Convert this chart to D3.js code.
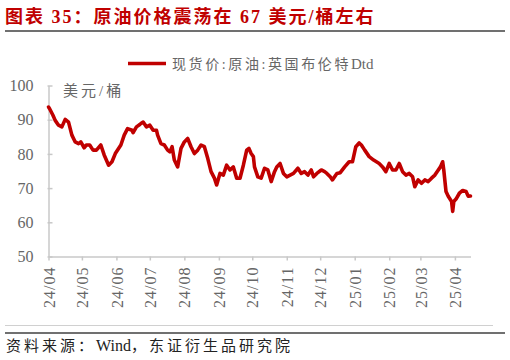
<!DOCTYPE html>
<html><head><meta charset="utf-8">
<script src="https://cdn.jsdelivr.net/npm/d3@7"></script>
<style>body{margin:0;background:#fff}svg{display:block}</style>
</head><body><svg id="c" width="510" height="360"></svg>
<script>
const dates = ["2024-04-01","2024-04-02","2024-04-05","2024-04-07","2024-04-10","2024-04-13","2024-04-16","2024-04-19","2024-04-22","2024-04-25","2024-04-28","2024-04-30",
"2024-05-03","2024-05-05","2024-05-08","2024-05-11","2024-05-14","2024-05-18","2024-05-21","2024-05-25","2024-05-28","2024-05-31",
"2024-06-05","2024-06-08","2024-06-11","2024-06-15","2024-06-16","2024-06-19","2024-06-22","2024-06-23","2024-06-25","2024-06-28",
"2024-07-01","2024-07-04","2024-07-07","2024-07-08","2024-07-11","2024-07-14","2024-07-17","2024-07-19","2024-07-21","2024-07-23","2024-07-26","2024-07-29",
"2024-08-01","2024-08-04","2024-08-07","2024-08-10","2024-08-13","2024-08-16","2024-08-19","2024-08-22","2024-08-25","2024-08-28","2024-08-30",
"2024-09-02","2024-09-05","2024-09-08","2024-09-11","2024-09-14","2024-09-17","2024-09-20","2024-09-23","2024-09-26","2024-09-28","2024-09-30",
"2024-10-02","2024-10-03","2024-10-06","2024-10-09","2024-10-12","2024-10-15","2024-10-18","2024-10-21","2024-10-23","2024-10-26","2024-10-29",
"2024-11-01","2024-11-04","2024-11-07","2024-11-11","2024-11-14","2024-11-17","2024-11-20","2024-11-23","2024-11-25","2024-11-28",
"2024-12-02","2024-12-05","2024-12-07","2024-12-10","2024-12-12","2024-12-16","2024-12-19","2024-12-23","2024-12-27","2024-12-30",
"2025-01-02","2025-01-05","2025-01-07","2025-01-10","2025-01-14","2025-01-18","2025-01-23","2025-01-26","2025-01-29",
"2025-02-01","2025-02-04","2025-02-07","2025-02-10","2025-02-13","2025-02-16","2025-02-19","2025-02-22","2025-02-24","2025-02-27",
"2025-03-02","2025-03-05","2025-03-08","2025-03-11","2025-03-14","2025-03-16","2025-03-19","2025-03-21","2025-03-22","2025-03-24","2025-03-26","2025-03-29","2025-03-30","2025-03-31",
"2025-04-02","2025-04-05","2025-04-08","2025-04-11","2025-04-13","2025-04-15"];
const values = [93.7,93.2,91.3,89.8,88.4,87.9,90.1,89.3,85.5,83.5,83.0,83.5,
81.8,82.6,82.6,81.1,81.1,82.6,79.7,76.7,77.7,80.1,
82.6,85.5,87.4,86.9,86.2,87.9,88.6,88.9,89.3,87.9,
88.4,86.9,86.9,85.5,83.0,82.6,81.1,80.6,82.1,78.2,76.2,81.6,
83.5,84.5,82.1,80.1,81.1,82.6,82.1,78.7,74.8,72.9,70.9,
74.3,73.8,76.7,75.3,76.2,72.9,72.9,76.7,81.1,81.6,80.1,
79.2,76.2,73.3,72.9,75.8,75.3,71.9,74.8,76.2,77.2,74.3,
73.3,73.8,74.3,75.8,74.3,74.8,73.8,75.3,73.3,74.3,
75.3,74.8,74.3,73.3,72.4,74.3,74.5,76.2,77.7,77.7,
82.1,83.2,82.6,81.1,79.2,78.2,77.2,76.2,74.8,
77.2,75.3,75.3,77.2,74.8,73.8,74.3,73.3,70.4,72.4,
71.4,72.4,71.9,72.9,73.8,74.8,76.2,77.7,75.3,69.0,67.6,66.1,63.2,66.1,
66.8,68.5,69.3,69.0,67.6,67.7];
const yTicks = [50,60,70,80,90,100];
const xTickDates = ["2024-04-01","2024-05-01","2024-06-01","2024-07-01","2024-08-01","2024-09-01","2024-10-01","2024-11-01","2024-12-01","2025-01-01","2025-02-01","2025-03-01","2025-04-01"];
const xTickLabels = ["24/04","24/05","24/06","24/07","24/08","24/09","24/10","24/11","24/12","25/01","25/02","25/03","25/04"];
const title = "图表 35：原油价格震荡在 67 美元/桶左右";
const seriesName = ["现货价:原油:英国布伦特", "Dtd"];
const unitLabel = "美元/桶";
const source = ["资料来源：", "Wind", "，东证衍生品研究院"];

const parse = d3.timeParse("%Y-%m-%d");
const data = dates.map((d,i)=>({date:parse(d), v:values[i]}));
const svg = d3.select("#c");
const FONT = "'Liberation Serif','Noto Sans CJK SC',serif";
const gray = "#666";
const axisCol = "#c8c8c8";

const x = d3.scaleTime().domain([parse("2024-04-01"), parse("2025-04-15")]).range([48.5, 470.5]);
const y = d3.scaleLinear().domain([50,100]).range([256.5, 85.5]);

// title
svg.append("text").attr("x",5).attr("y",23).attr("fill","#c00000")
  .attr("font-family",FONT).attr("font-weight","bold").attr("font-size",18)
  .attr("letter-spacing",2).text(title);
svg.append("line").attr("x1",5).attr("x2",505).attr("y1",31).attr("y2",31)
  .attr("stroke","#404040").attr("stroke-width",1.5);

// bottom lines and source
svg.append("line").attr("x1",5).attr("x2",493).attr("y1",325.5).attr("y2",325.5)
  .attr("stroke","#d0d0d0").attr("stroke-width",1);
svg.append("line").attr("x1",5).attr("x2",505).attr("y1",333).attr("y2",333)
  .attr("stroke","#404040").attr("stroke-width",1.5);
const st = svg.append("text").attr("x",6).attr("y",351).attr("fill","#222")
  .attr("font-family",FONT).attr("font-size",15);
st.append("tspan").attr("letter-spacing",3).text(source[0]);
st.append("tspan").attr("letter-spacing",0).attr("font-size",16).text(source[1]);
st.append("tspan").attr("letter-spacing",3).text(source[2]);

// legend
svg.append("line").attr("x1",128).attr("x2",166).attr("y1",63.5).attr("y2",63.5)
  .attr("stroke","#c00000").attr("stroke-width",3.5);
const lt = svg.append("text").attr("x",172).attr("y",68.5).attr("fill",gray)
  .attr("font-family",FONT).attr("font-size",14);
lt.append("tspan").attr("letter-spacing",2.6).text(seriesName[0]);
lt.append("tspan").attr("letter-spacing",0).attr("font-size",15).text(seriesName[1]);

// unit
svg.append("text").attr("x",63).attr("y",96).attr("fill",gray)
  .attr("font-family",FONT).attr("font-size",15).attr("letter-spacing",3).text(unitLabel);

// y axis
const yAxis = d3.axisLeft(y).tickValues(yTicks).tickSize(0).tickPadding(15);
const gy = svg.append("g").attr("transform","translate(48.5,0)").call(yAxis);
gy.select(".domain").attr("stroke",axisCol).attr("stroke-width",1.5);
gy.selectAll(".tick text").attr("font-family",FONT).attr("font-size",16).attr("fill",gray);
gy.selectAll(".tick").append("line").attr("x1",-1).attr("x2",4).attr("stroke",axisCol).attr("stroke-width",1.5);

// x axis
const xAxis = d3.axisBottom(x).tickValues(xTickDates.map(parse))
  .tickFormat((d,i)=>xTickLabels[i]).tickSize(4).tickSizeOuter(0).tickPadding(0);
const gx = svg.append("g").attr("transform","translate(0,256.5)").call(xAxis);
gx.select(".domain").attr("stroke",axisCol).attr("stroke-width",1.5);
gx.selectAll(".tick line").attr("stroke",axisCol).attr("stroke-width",1.5);
gx.selectAll(".tick text").attr("font-family",FONT).attr("font-size",16).attr("fill",gray)
  .attr("letter-spacing",1)
  .attr("transform","rotate(-90)").attr("text-anchor","end")
  .attr("x",-10).attr("y",0).attr("dy","0.35em");

// line
svg.append("path").datum(data)
  .attr("fill","none").attr("stroke","#c00000").attr("stroke-width",3.6)
  .attr("stroke-linejoin","round").attr("stroke-linecap","round")
  .attr("d", d3.line().x(d=>x(d.date)).y(d=>y(d.v)));
</script></body></html>
